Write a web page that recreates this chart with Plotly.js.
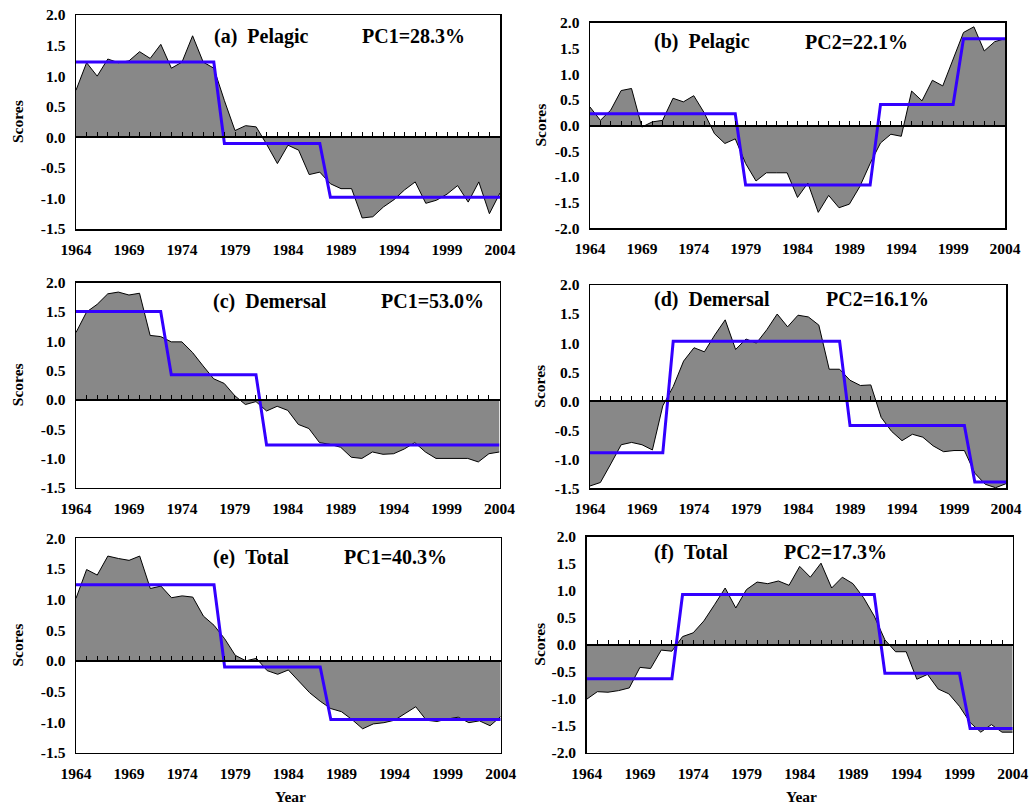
<!DOCTYPE html>
<html>
<head>
<meta charset="utf-8">
<script src="https://cdn.plot.ly/plotly-3.0.1.min.js"></script>
<style>html,body{margin:0;padding:0;background:#fff;}#chart{width:1029px;height:807px;}</style>
</head>
<body>
<div id="chart"></div>
<script>
// ---------- DATA ----------
const years = [1964,1965,1966,1967,1968,1969,1970,1971,1972,1973,1974,1975,1976,1977,1978,1979,1980,1981,1982,1983,1984,1985,1986,1987,1988,1989,1990,1991,1992,1993,1994,1995,1996,1997,1998,1999,2000,2001,2002,2003,2004];
const xTickVals = [1964,1969,1974,1979,1984,1989,1994,1999,2004];
const xTickText = ["1964","1969","1974","1979","1984","1989","1994","1999","2004"];
const yTickVals15 = [-1.5,-1.0,-0.5,0,0.5,1.0,1.5,2.0];
const yTickText15 = ["-1.5","-1.0","-0.5","0.0","0.5","1.0","1.5","2.0"];
const yTickVals20 = [-2.0,-1.5,-1.0,-0.5,0,0.5,1.0,1.5,2.0];
const yTickText20 = ["-2.0","-1.5","-1.0","-0.5","0.0","0.5","1.0","1.5","2.0"];

const pelagicPC1 = [0.77,1.22,1.00,1.28,1.22,1.25,1.40,1.29,1.52,1.13,1.23,1.66,1.23,1.13,0.60,0.11,0.19,0.17,-0.12,-0.43,-0.13,-0.21,-0.61,-0.57,-0.76,-0.84,-0.84,-1.32,-1.30,-1.14,-1.02,-0.86,-0.73,-1.08,-1.03,-0.93,-0.79,-1.06,-0.73,-1.25,-0.91];
const pelagicPC1Regime = [1.23,1.23,1.23,1.23,1.23,1.23,1.23,1.23,1.23,1.23,1.23,1.23,1.23,1.23,-0.10,-0.10,-0.10,-0.10,-0.10,-0.10,-0.10,-0.10,-0.10,-0.10,-0.98,-0.98,-0.98,-0.98,-0.98,-0.98,-0.98,-0.98,-0.98,-0.98,-0.98,-0.98,-0.98,-0.98,-0.98,-0.98,-0.98];

const pelagicPC2 = [0.36,0.10,0.30,0.68,0.72,-0.03,0.07,0.10,0.53,0.46,0.58,0.25,-0.16,-0.35,-0.26,-0.74,-1.08,-0.92,-0.92,-0.92,-1.40,-1.12,-1.69,-1.36,-1.60,-1.53,-1.19,-0.74,-0.34,-0.17,-0.21,0.67,0.48,0.88,0.77,1.29,1.81,1.92,1.45,1.63,1.69];
const pelagicPC2Regime = [0.23,0.23,0.23,0.23,0.23,0.23,0.23,0.23,0.23,0.23,0.23,0.23,0.23,0.23,0.23,-1.16,-1.16,-1.16,-1.16,-1.16,-1.16,-1.16,-1.16,-1.16,-1.16,-1.16,-1.16,-1.16,0.41,0.41,0.41,0.41,0.41,0.41,0.41,0.41,1.69,1.69,1.69,1.69,1.69];

const demersalPC1 = [1.15,1.50,1.63,1.81,1.84,1.79,1.82,1.10,1.08,0.99,0.99,0.81,0.58,0.36,0.28,0.07,-0.08,-0.03,-0.19,-0.11,-0.18,-0.42,-0.49,-0.73,-0.76,-0.81,-0.98,-1.00,-0.89,-0.93,-0.92,-0.84,-0.73,-0.89,-1.00,-1.00,-1.00,-1.00,-1.06,-0.92,-0.89];
const demersalPC1Regime = [1.51,1.51,1.51,1.51,1.51,1.51,1.51,1.51,1.51,0.43,0.43,0.43,0.43,0.43,0.43,0.43,0.43,0.43,-0.77,-0.77,-0.77,-0.77,-0.77,-0.77,-0.77,-0.77,-0.77,-0.77,-0.77,-0.77,-0.77,-0.77,-0.77,-0.77,-0.77,-0.77,-0.77,-0.77,-0.77,-0.77,-0.77];

const demersalPC2 = [-1.46,-1.40,-1.08,-0.75,-0.71,-0.75,-0.84,-0.08,0.25,0.69,0.92,0.85,1.14,1.40,0.89,1.07,1.00,1.23,1.50,1.28,1.48,1.45,1.31,0.55,0.55,0.36,0.27,0.28,-0.28,-0.52,-0.68,-0.57,-0.62,-0.77,-0.87,-0.85,-0.85,-1.24,-1.43,-1.49,-1.42];
const demersalPC2Regime = [-0.89,-0.89,-0.89,-0.89,-0.89,-0.89,-0.89,-0.89,1.03,1.03,1.03,1.03,1.03,1.03,1.03,1.03,1.03,1.03,1.03,1.03,1.03,1.03,1.03,1.03,1.03,-0.42,-0.42,-0.42,-0.42,-0.42,-0.42,-0.42,-0.42,-0.42,-0.42,-0.42,-0.42,-1.39,-1.39,-1.39,-1.39];

const totalPC1 = [1.02,1.49,1.40,1.71,1.67,1.64,1.71,1.18,1.22,1.03,1.06,1.04,0.73,0.58,0.36,0.09,0.00,0.04,-0.16,-0.22,-0.15,-0.34,-0.52,-0.66,-0.78,-0.83,-0.96,-1.11,-1.03,-1.01,-0.97,-0.86,-0.75,-0.97,-0.99,-0.95,-0.92,-1.01,-0.98,-1.06,-0.91];
const totalPC1Regime = [1.24,1.24,1.24,1.24,1.24,1.24,1.24,1.24,1.24,1.24,1.24,1.24,1.24,1.24,-0.10,-0.10,-0.10,-0.10,-0.10,-0.10,-0.10,-0.10,-0.10,-0.10,-0.96,-0.96,-0.96,-0.96,-0.96,-0.96,-0.96,-0.96,-0.96,-0.96,-0.96,-0.96,-0.96,-0.96,-0.96,-0.96,-0.96];

const totalPC2 = [-1.01,-0.87,-0.88,-0.85,-0.80,-0.42,-0.44,-0.10,-0.12,0.15,0.22,0.44,0.74,1.05,0.68,1.02,1.16,1.13,1.18,1.10,1.45,1.25,1.51,1.05,1.25,1.13,0.87,0.53,0.09,-0.13,-0.13,-0.64,-0.55,-0.82,-0.91,-1.14,-1.44,-1.62,-1.48,-1.62,-1.62];
const totalPC2Regime = [-0.63,-0.63,-0.63,-0.63,-0.63,-0.63,-0.63,-0.63,-0.63,0.93,0.93,0.93,0.93,0.93,0.93,0.93,0.93,0.93,0.93,0.93,0.93,0.93,0.93,0.93,0.93,0.93,0.93,0.93,-0.53,-0.53,-0.53,-0.53,-0.53,-0.53,-0.53,-0.53,-1.55,-1.55,-1.55,-1.55,-1.55];

const panelLabels = ["(a)\u00a0\u00a0Pelagic","(b)\u00a0\u00a0Pelagic","(c)\u00a0\u00a0Demersal","(d)\u00a0\u00a0Demersal","(e)\u00a0\u00a0Total","(f)\u00a0\u00a0Total"];
const pcLabels = ["PC1=28.3%","PC2=22.1%","PC1=53.0%","PC2=16.1%","PC1=40.3%","PC2=17.3%"];
const seriesList = [pelagicPC1,pelagicPC2,demersalPC1,demersalPC2,totalPC1,totalPC2];
const regimeList = [pelagicPC1Regime,pelagicPC2Regime,demersalPC1Regime,demersalPC2Regime,totalPC1Regime,totalPC2Regime];

// ---------- LAYOUT (pixels) ----------
const W = 1029, H = 807;
const px = v => v / W;
const py = v => 1 - v / H;
const FONT = "Liberation Serif, Times New Roman, serif";

const panels = [
  {x0:76,  x1:500,  y0:15,    y1:229,   yr:[-1.5,2], lab:[212,36],  pc:[360,36]},
  {x0:590, x1:1005, y0:22.7,  y1:228.3, yr:[-2,2],   lab:[652,42],  pc:[803,42]},
  {x0:76,  x1:499.5,y0:282.7, y1:487.7, yr:[-1.5,2], lab:[211,301], pc:[379,301]},
  {x0:590, x1:1006, y0:285,   y1:488.3, yr:[-1.5,2], lab:[652,299], pc:[824,299]},
  {x0:76,  x1:500.7,y0:538.3, y1:752.7, yr:[-1.5,2], lab:[211,557], pc:[342,557]},
  {x0:586.7,x1:1012.7,y0:536.7,y1:752.7,yr:[-2,2],   lab:[652,552], pc:[782,552]}
];
const scoresX = [17,540,17,540,17,540];

const traces = [];
const layout = {
  width: W, height: H,
  margin: {l:0, r:0, t:0, b:0},
  paper_bgcolor: "#ffffff",
  plot_bgcolor: "#ffffff",
  showlegend: false,
  font: {family: FONT, color: "#000", size: 15},
  annotations: []
};

panels.forEach((p, i) => {
  const n = i + 1;
  const xName = n === 1 ? "x" : "x" + n;
  const yName = n === 1 ? "y" : "y" + n;
  const xKey = n === 1 ? "xaxis" : "xaxis" + n;
  const yKey = n === 1 ? "yaxis" : "yaxis" + n;
  const ovN = n + 6;
  const ovName = "x" + ovN;
  const ovKey = "xaxis" + ovN;

  const dom = [py(p.y1), py(p.y0)];
  const zeroPos = dom[0] + (0 - p.yr[0]) / (p.yr[1] - p.yr[0]) * (dom[1] - dom[0]);
  const is20 = p.yr[0] === -2;

  layout[xKey] = {
    domain: [px(p.x0), px(p.x1)], range: [1964, 2004], anchor: yName,
    tickmode: "array", tickvals: xTickVals, ticktext: xTickText,
    ticks: "", showline: true, mirror: true, linecolor: "#000", linewidth: 1.5,
    showgrid: false, zeroline: false, ticklabelstandoff: 6,
    tickfont: {family: FONT, size: 15.5, color: "#000", weight: "bold"}
  };
  layout[yKey] = {
    domain: dom, range: p.yr, anchor: xName,
    tickmode: "array", tickvals: is20 ? yTickVals20 : yTickVals15, ticktext: is20 ? yTickText20 : yTickText15,
    ticks: "", showline: true, mirror: true, linecolor: "#000", linewidth: 1.5,
    showgrid: false, zeroline: false, ticklabelstandoff: 6,
    tickfont: {family: FONT, size: 15.5, color: "#000", weight: "bold"}
  };
  layout[ovKey] = {
    overlaying: xName, anchor: "free", position: zeroPos, range: [1964, 2004],
    tickmode: "linear", tick0: 1964, dtick: 1, ticks: "inside", ticklen: 4, tickwidth: 1, tickcolor: "#000",
    showticklabels: false, showline: true, linecolor: "#000", linewidth: 2,
    showgrid: false, zeroline: false, layer: "above traces"
  };

  traces.push({
    type: "scatter", mode: "lines", x: years, y: seriesList[i],
    xaxis: xName, yaxis: yName, fill: "tozeroy", fillcolor: "#888888",
    line: {color: "#000", width: 1}, hoverinfo: "skip"
  });
  traces.push({
    type: "scatter", mode: "lines", x: years, y: regimeList[i],
    xaxis: ovName, yaxis: yName,
    line: {color: "#3300ff", width: 3}, hoverinfo: "skip"
  });

  layout.annotations.push({
    xref: "paper", yref: "paper", x: px(p.lab[0]), y: py(p.lab[1]),
    xanchor: "left", yanchor: "middle", showarrow: false, text: panelLabels[i],
    font: {family: FONT, size: 20, color: "#000", weight: "bold"}
  });
  layout.annotations.push({
    xref: "paper", yref: "paper", x: px(p.pc[0]), y: py(p.pc[1]),
    xanchor: "left", yanchor: "middle", showarrow: false, text: pcLabels[i],
    font: {family: FONT, size: 20, color: "#000", weight: "bold"}
  });
  layout.annotations.push({
    xref: "paper", yref: "paper", x: px(scoresX[i]), y: py((p.y0 + p.y1) / 2),
    xanchor: "center", yanchor: "middle", showarrow: false, text: "Scores", textangle: -90,
    font: {family: FONT, size: 15.5, color: "#000", weight: "bold"}
  });
});

layout.annotations.push({
  xref: "paper", yref: "paper", x: px(290.5), y: py(806), xanchor: "center", yanchor: "bottom",
  borderpad: 0, showarrow: false, text: "Year", font: {family: FONT, size: 15.5, color: "#000", weight: "bold"}
});
layout.annotations.push({
  xref: "paper", yref: "paper", x: px(801), y: py(806), xanchor: "center", yanchor: "bottom",
  borderpad: 0, showarrow: false, text: "Year", font: {family: FONT, size: 15.5, color: "#000", weight: "bold"}
});

Plotly.newPlot("chart", traces, layout, {displayModeBar: false, staticPlot: true});
</script>
</body>
</html>
